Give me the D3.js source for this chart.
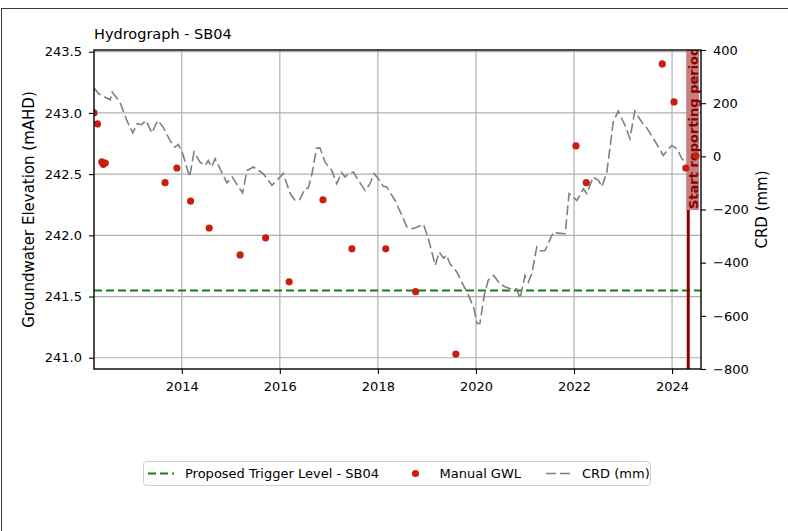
<!DOCTYPE html>
<meta charset="utf-8">
<style>
body { margin: 0; background: #fff; }
svg { display: block; font-family: "DejaVu Sans", sans-serif; }
</style>
<body>
<script src="https://d3js.org/d3.v7.min.js"></script>
<script>
'use strict';

// CRD (mm), decimal years
const crdYear = [2012.21, 2012.30, 2012.54, 2012.58, 2012.74, 2012.88, 2013.00, 2013.09, 2013.18, 2013.27,
  2013.39, 2013.51, 2013.62, 2013.76, 2013.86, 2013.93, 2014.02, 2014.16, 2014.25, 2014.37,
  2014.48, 2014.54, 2014.61, 2014.68, 2014.78, 2014.92, 2015.03, 2015.24, 2015.33, 2015.46,
  2015.66, 2015.84, 2015.94, 2016.07, 2016.21, 2016.31, 2016.41, 2016.51, 2016.58, 2016.65,
  2016.75, 2016.82, 2016.92, 2017.06, 2017.16, 2017.26, 2017.33, 2017.40, 2017.50, 2017.60,
  2017.74, 2017.84, 2017.92, 2018.01, 2018.11, 2018.18, 2018.35, 2018.49, 2018.59, 2018.72,
  2018.93, 2019.03, 2019.17, 2019.25, 2019.34, 2019.40, 2019.47, 2019.61, 2019.71, 2019.85,
  2019.96, 2020.02, 2020.08, 2020.17, 2020.25, 2020.36, 2020.49, 2020.59, 2020.70, 2020.83,
  2020.90, 2021.00, 2021.07, 2021.14, 2021.24, 2021.31, 2021.41, 2021.58, 2021.68, 2021.82,
  2021.90, 2022.06, 2022.19, 2022.26, 2022.39, 2022.50, 2022.57, 2022.67, 2022.80, 2022.90,
  2023.04, 2023.14, 2023.24, 2023.38, 2023.48, 2023.62, 2023.82, 2023.99, 2024.10, 2024.20,
  2024.30];
const crdMm = [258, 236, 213, 242, 204, 135, 88, 123, 119, 135,
  88, 135, 110, 60, 35, 45, 10, -78, 16, -21,
  -34, -15, -40, -9, -46, -100, -78, -138, -53, -40,
  -65, -109, -90, -65, -140, -166, -162, -122, -119, -71,
  31, 31, -21, -53, -103, -61, -78, -65, -59, -90,
  -128, -103, -65, -84, -113, -115, -166, -222, -266, -272,
  -256, -310, -410, -360, -383, -372, -404, -435, -473, -523,
  -573, -629, -629, -523, -466, -448, -479, -491, -498, -498,
  -535, -448, -473, -441, -341, -356, -354, -285, -289, -291,
  -140, -166, -122, -140, -78, -90, -115, -59, 129, 170,
  117, 67, 170, 129, 108, 67, 4, 41, 29, -9,
  -27];

// manual groundwater level readings (mAHD)
const gwlYear = [2012.21, 2012.28, 2012.37, 2012.40, 2012.44, 2013.66, 2013.90, 2014.18, 2014.56, 2015.19,
  2015.71, 2016.19, 2016.88, 2017.47, 2018.16, 2018.77, 2019.59, 2022.04, 2022.25, 2023.80,
  2024.04, 2024.28, 2024.49];
const gwlLevel = [243.00, 242.91, 242.60, 242.58, 242.59, 242.43, 242.55, 242.28, 242.06, 241.84,
  241.98, 241.62, 242.29, 241.89, 241.89, 241.54, 241.03, 242.73, 242.43, 243.40,
  243.09, 242.55, 242.65];

const triggerLevel = 241.55;
const reportStart = 2024.33;

const xTicks = [2014, 2016, 2018, 2020, 2022, 2024];
const leftTicks = [241.0, 241.5, 242.0, 242.5, 243.0, 243.5];
const rightTicks = [-800, -600, -400, -200, 0, 200, 400];
const legendLabels = ["Proposed Trigger Level - SB04", "Manual GWL", "CRD (mm)"];

const width = 788, height = 531,
      margin = {top: 50, right: 87, bottom: 162, left: 94},
      x0 = margin.left, x1 = width - margin.right,
      y0 = margin.top, y1 = height - margin.bottom;

const x = d3.scaleLinear().domain([2012.21, 2024.59]).range([x0, x1]),
      yL = d3.scaleLinear().domain([240.908, 243.514]).range([y1, y0]),
      yR = d3.scaleLinear().domain([-800, 400]).range([y1, y0]);

const svg = d3.select("body").append("svg")
    .attr("width", width)
    .attr("height", height);

// figure frame
svg.append("rect")
    .attr("x", 1.5).attr("y", 8.5)
    .attr("width", 900).attr("height", 700)
    .attr("fill", "none")
    .attr("stroke", "#3a3a3a");

svg.append("defs").append("clipPath").attr("id", "plotclip")
  .append("rect")
    .attr("x", x0).attr("y", y0)
    .attr("width", x1 - x0).attr("height", y1 - y0);

// grid
const grid = svg.append("g").attr("stroke", "#b0b0b0").attr("stroke-width", 1.2);
grid.selectAll(".vx").data(xTicks).enter().append("line")
    .attr("x1", d => x(d)).attr("x2", d => x(d))
    .attr("y1", y0).attr("y2", y1);
grid.selectAll(".hy").data(leftTicks).enter().append("line")
    .attr("x1", x0).attr("x2", x1)
    .attr("y1", d => yL(d)).attr("y2", d => yL(d));

const plot = svg.append("g").attr("clip-path", "url(#plotclip)");

// trigger level
plot.append("line")
    .attr("x1", x0).attr("x2", x1)
    .attr("y1", yL(triggerLevel)).attr("y2", yL(triggerLevel))
    .attr("stroke", "#1a7f1a")
    .attr("stroke-width", 2)
    .attr("stroke-dasharray", "8,4");

// CRD line
const crdLine = d3.line()
    .x((d, i) => x(crdYear[i]))
    .y(d => yR(d));

plot.append("path")
    .datum(crdMm)
    .attr("d", crdLine)
    .attr("fill", "none")
    .attr("stroke", "#808080")
    .attr("stroke-width", 1.6)
    .attr("stroke-dasharray", "10,4");

// start of reporting period
const rx = x(reportStart);
plot.append("line")
    .attr("x1", rx).attr("x2", rx)
    .attr("y1", y0).attr("y2", y1)
    .attr("stroke", "#8b0000")
    .attr("stroke-width", 3);
plot.append("rect")
    .attr("x", rx - 1.8).attr("y", y0 - 10)
    .attr("width", 12.6).attr("height", 210 - (y0 - 10))
    .attr("fill", "#c58080");
plot.append("text")
    .attr("transform", `translate(${rx + 9.5},209) rotate(-90)`)
    .attr("fill", "#8b0000")
    .attr("font-weight", "bold")
    .attr("font-size", 13)
    .text("Start reporting period");

// manual GWL
plot.selectAll(".gwl").data(gwlLevel).enter().append("circle")
    .attr("cx", (d, i) => x(gwlYear[i]))
    .attr("cy", d => yL(d))
    .attr("r", 3.6)
    .attr("fill", "#c8200e");

// axes
const fmtL = d3.format(".1f");
const axL = svg.append("g")
    .attr("transform", `translate(${x0},0)`)
    .call(d3.axisLeft(yL).tickValues(leftTicks).tickFormat(fmtL).tickSize(5).tickPadding(7).tickSizeOuter(0));
const axR = svg.append("g")
    .attr("transform", `translate(${x1},0)`)
    .call(d3.axisRight(yR).tickValues(rightTicks).tickSize(5).tickPadding(7).tickSizeOuter(0));
const axB = svg.append("g")
    .attr("transform", `translate(0,${y1})`)
    .call(d3.axisBottom(x).tickValues(xTicks).tickFormat(d3.format("d")).tickSize(5).tickPadding(8).tickSizeOuter(0));

[axL, axR, axB].forEach(a => {
  a.select(".domain").remove();
  a.selectAll("text").attr("font-size", 13).attr("font-family", "DejaVu Sans").attr("fill", "#000");
  a.selectAll("line").attr("stroke", "#000").attr("stroke-width", 1.1);
});

// spines
svg.append("rect")
    .attr("x", x0).attr("y", y0)
    .attr("width", x1 - x0).attr("height", y1 - y0)
    .attr("fill", "none")
    .attr("stroke", "#000")
    .attr("stroke-width", 1.4);

// titles
svg.append("text")
    .attr("x", x0).attr("y", 39)
    .attr("font-size", 14.5)
    .text("Hydrograph - SB04");

svg.append("text")
    .attr("transform", `translate(34,${(y0 + y1) / 2}) rotate(-90)`)
    .attr("text-anchor", "middle")
    .attr("font-size", 15)
    .text("Groundwater Elevation (mAHD)");

svg.append("text")
    .attr("transform", `translate(767,${(y0 + y1) / 2}) rotate(-90)`)
    .attr("text-anchor", "middle")
    .attr("font-size", 15)
    .text("CRD (mm)");

// legend
const lg = svg.append("g").attr("font-size", 13);
lg.append("rect")
    .attr("x", 143.5).attr("y", 461.5)
    .attr("width", 507).attr("height", 24)
    .attr("rx", 3)
    .attr("fill", "#fff")
    .attr("stroke", "#d0d0d0");
const ly = 473.5;
lg.append("line")
    .attr("x1", 148).attr("x2", 174).attr("y1", ly).attr("y2", ly)
    .attr("stroke", "#1a7f1a").attr("stroke-width", 2).attr("stroke-dasharray", "8,4");
lg.append("text").attr("x", 185).attr("y", ly + 4.5).text(legendLabels[0]);
lg.append("circle").attr("cx", 415.5).attr("cy", ly).attr("r", 3.6).attr("fill", "#c8200e");
lg.append("text").attr("x", 439.5).attr("y", ly + 4.5).text(legendLabels[1]);
lg.append("line")
    .attr("x1", 546).attr("x2", 572).attr("y1", ly).attr("y2", ly)
    .attr("stroke", "#808080").attr("stroke-width", 1.6).attr("stroke-dasharray", "10,4");
lg.append("text").attr("x", 582).attr("y", ly + 4.5).text(legendLabels[2]);
</script>
